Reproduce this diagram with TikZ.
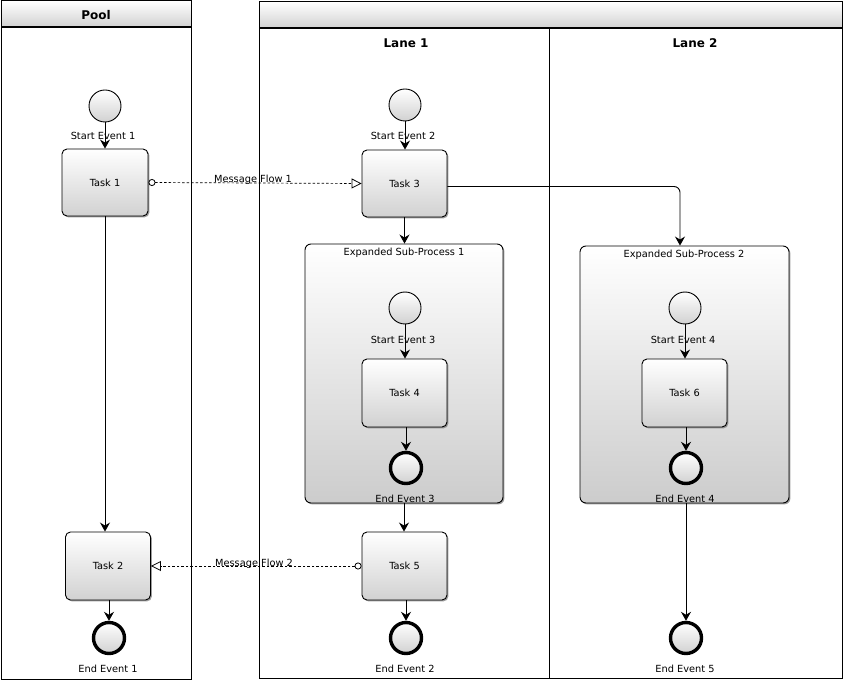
\documentclass[tikz,border=0pt]{standalone}
\usepackage{fontspec}
\setmainfont{DejaVu Sans}
\usetikzlibrary{arrows.meta,shadows}
\begin{document}
\begin{tikzpicture}[x=1pt,y=-1pt,
  lbl/.style={font=\fontsize{9.8}{11}\selectfont, inner sep=0pt},
  hdr/.style={font=\bfseries\fontsize{12}{14}\selectfont, inner sep=0pt},
  pool/.style={draw=black, line width=1pt},
  poolhead/.style={draw=black, line width=1pt, top color=white, bottom color=black!18},
  task/.style={draw=black, line width=0.9pt, rounded corners=5pt, top color=white, bottom color=black!18,
    minimum width=85pt, minimum height=67pt, inner sep=0pt, font=\fontsize{9.8}{11}\selectfont,
    drop shadow={shadow xshift=1.4pt, shadow yshift=-1.4pt, opacity=0.7, fill=black!55}},
  subproc/.style={draw=black, line width=0.9pt, rounded corners=6pt, top color=white, bottom color=black!20,
    inner sep=0pt, drop shadow={shadow xshift=1.4pt, shadow yshift=-1.4pt, opacity=0.7, fill=black!55}},
  startev/.style={circle, draw=black, line width=0.9pt, minimum size=32pt, inner sep=0pt, top color=white, bottom color=black!18},
  endev/.style={circle, draw=black, line width=3.4pt, minimum size=31pt, inner sep=0pt, top color=white, bottom color=black!18},
  flow/.style={draw=black, line width=0.9pt, -{Stealth[length=9pt,width=10pt,inset=3pt]}},
  msg/.style={draw=black, line width=0.7pt, dash pattern=on 2.5pt off 2pt,
    {Circle[open,length=7pt,width=7pt,line width=0.8pt]}-{Triangle[open,length=10pt,width=10pt,line width=0.8pt]}}
]
\useasboundingbox (0,0) rectangle (843,684);

% Pool (left)
\draw[pool] (1,1) rectangle (191,679);
\node[poolhead, minimum width=190pt, minimum height=26pt, inner sep=0pt] (pH) at (96,14) {};
\draw[line width=1.8pt] (1,27.5) -- (191,27.5);
\node[hdr] (pooltxt) at (96,15) {Pool};

% Pool (right) with lanes
\draw[pool] (259,2) rectangle (842,678);
\node[poolhead, minimum width=583pt, minimum height=26pt, inner sep=0pt] (p2H) at (550.5,15) {};
\draw[line width=1.8pt] (259,28.5) -- (842,28.5);
\draw[line width=1pt] (549,28.5) -- (549,678);
\node[hdr] (lane1) at (406,43) {Lane 1};
\node[hdr] (lane2) at (695,43) {Lane 2};

% Sub-processes
\node[subproc, minimum width=198pt, minimum height=259pt] (sp1) at (404,373.5) {};
\node[lbl] (sp1l) at (404,253) {Expanded Sub-Process 1};
\node[subproc, minimum width=209pt, minimum height=257pt] (sp2) at (684.5,374.5) {};
\node[lbl] (sp2l) at (684,255) {Expanded Sub-Process 2};

% Events
\node[startev] (se1) at (105,106) {};
\node[lbl] (se1l) at (103,136) {Start Event 1};
\node[startev] (se2) at (405,105) {};
\node[lbl] (se2l) at (403,136) {Start Event 2};
\node[startev] (se3) at (405,308) {};
\node[lbl] (se3l) at (403,340) {Start Event 3};
\node[startev] (se4) at (685,308) {};
\node[lbl] (se4l) at (683,340) {Start Event 4};

\node[endev] (ee1) at (109,638) {};
\node[lbl] (ee1l) at (108,669) {End Event 1};
\node[endev] (ee2) at (406,638) {};
\node[lbl] (ee2l) at (405,669) {End Event 2};
\node[endev] (ee3) at (406,468) {};
\node[lbl] (ee3l) at (405,499) {End Event 3};
\node[endev] (ee4) at (686,468) {};
\node[lbl] (ee4l) at (685,499) {End Event 4};
\node[endev] (ee5) at (686,638) {};
\node[lbl] (ee5l) at (685,669) {End Event 5};

% Tasks
\node[task, minimum width=86pt] (t1) at (105,182.5) {Task 1};
\node[task, minimum height=68pt] (t2) at (108,566) {Task 2};
\node[task] (t3) at (404.5,183.5) {Task 3};
\node[task, minimum height=68pt] (t4) at (404.5,393) {Task 4};
\node[task, minimum height=68pt] (t5) at (404.5,566) {Task 5};
\node[task, minimum height=68pt] (t6) at (684.5,393) {Task 6};

% Sequence flows
\draw[flow] (se1.south) -- (se1.south |- t1.north);
\draw[flow] (se2.south) -- (se2.south |- t3.north);
\draw[flow] (t3.south) -- (t3.south |- sp1.north);
\draw[flow] (se3.south) -- (se3.south |- t4.north);
\draw[flow] (t4.south -| ee3) -- (ee3.north);
\draw[flow] (sp1.south) -- (sp1.south |- t5.north);
\draw[flow] (t5.south -| ee2) -- (ee2.north);
\draw[flow] (t1.south) -- (t1.south |- t2.north);
\draw[flow] (t2.south -| ee1) -- (ee1.north);
\draw[flow] (se4.south) -- (se4.south |- t6.north);
\draw[flow] (t6.south -| ee4) -- (ee4.north);
\draw[flow] (sp2.south -| ee5) -- (ee5.north);
\coordinate (c36) at (680,186.5);
\draw[flow, rounded corners=6pt] (t3.east |- c36) -- (c36) -- (c36 |- sp2.north);

% Message flows
\draw[msg] (t1.east) -- (t3.west);
\node[lbl, anchor=base] (mf1) at (253,183) {Message Flow 1};
\draw[msg] (t5.west) -- (t2.east);
\node[lbl, anchor=base] (mf2) at (254,566) {Message Flow 2};
\end{tikzpicture}
\end{document}
